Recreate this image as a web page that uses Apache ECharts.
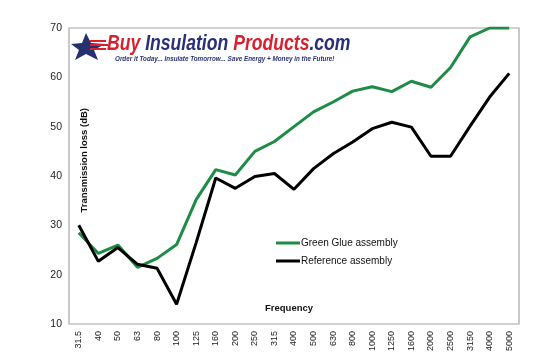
<!DOCTYPE html>
<html>
<head>
<meta charset="utf-8">
<script src="https://cdn.jsdelivr.net/npm/echarts@6/dist/echarts.min.js"></script>
<style>html,body{margin:0;padding:0;background:#fff}#c{width:541px;height:363px}</style>
</head>
<body>
<div id="c"></div>
<script>
const categories = ['31.5','40','50','63','80','100','125','160','200','250','315','400','500','630','800','1000','1250','1600','2000','2500','3150','4000','5000'];
const greenGlue = [28.5,24.3,26,21.5,23.3,26.1,35.2,41.3,40.2,45,47,50,53,55,57.2,58.1,57.1,59.2,58,62,68.2,70,70];
const reference = [30,22.7,25.5,22.1,21.3,14,26.5,39.6,37.5,39.9,40.5,37.3,41.5,44.5,46.9,49.6,50.9,49.9,44,44,50.1,56,60.8];
const seriesNames = ['Green Glue assembly','Reference assembly'];
const yTicks = {min:10,max:70,interval:10};

const chart = echarts.init(document.getElementById('c'));
chart.setOption({
  animation:false,
  backgroundColor:'#fff',
  grid:{left:69,right:22,top:28,bottom:39,show:true,borderColor:'#a6a6a6',borderWidth:1.2},
  xAxis:{type:'category',data:categories,boundaryGap:true,
    axisLine:{show:false},axisTick:{show:false},
    axisLabel:{rotate:90,fontSize:9,color:'#222',fontFamily:'Liberation Sans, Arial',margin:7,interval:0}},
  yAxis:{type:'value',min:yTicks.min,max:yTicks.max,interval:yTicks.interval,
    axisLine:{show:false},axisTick:{show:false},splitLine:{show:false},
    axisLabel:{fontSize:10.5,color:'#222',fontFamily:'Liberation Sans, Arial',margin:7}},
  legend:{orient:'vertical',left:271,top:233,itemGap:8,itemWidth:24,itemHeight:3,icon:'rect',
    textStyle:{fontSize:10,color:'#111',fontFamily:'Liberation Sans, Arial',padding:[0,0,0,-4]},
    data:seriesNames},
  series:[
    {name:seriesNames[0],type:'line',data:greenGlue,symbol:'none',lineStyle:{color:'#1d8c45',width:3},itemStyle:{color:'#1d8c45'}},
    {name:seriesNames[1],type:'line',data:reference,symbol:'none',lineStyle:{color:'#000',width:3},itemStyle:{color:'#000'}}
  ],
  graphic:[
    {type:'text',left:79,top:108,rotation:Math.PI/2,style:{text:'Transmission loss (dB)',font:'bold 9.5px Liberation Sans, Arial',fill:'#111'}},
    {type:'text',left:265,top:303,style:{text:'Frequency',font:'bold 9.5px Liberation Sans, Arial',fill:'#111'}},
    {type:'polygon',shape:{points:[[86,33],[91,43],[105,44],[94,50],[98,60],[86,54],[75,60],[79,50],[71,44],[82,43]]},style:{fill:'#27306e'}},
    {type:'rect',shape:{x:90,y:40,width:16,height:2},style:{fill:'#d62030'}},
    {type:'rect',shape:{x:90,y:44,width:18,height:2},style:{fill:'#d62030'}},
    {type:'rect',shape:{x:90,y:48,width:16,height:2},style:{fill:'#d62030'}},
    {type:'text',x:107,y:33,scaleX:0.8,style:{
      rich:{r:{font:'italic bold 22px Liberation Sans, Arial',fill:'#d8202e',textShadowColor:'#9a9a9a',textShadowOffsetX:1.5,textShadowOffsetY:1.5},
            b:{font:'italic bold 22px Liberation Sans, Arial',fill:'#2a2f7a',textShadowColor:'#9a9a9a',textShadowOffsetX:1.5,textShadowOffsetY:1.5}},
      text:'{r|Buy }{b|Insulation }{r|Products}{b|.com}'}},
    {type:'text',x:115,y:56,scaleX:0.9,style:{text:'Order it Today... Insulate Tomorrow... Save Energy + Money in the Future!',font:'italic bold 7px Liberation Sans, Arial',fill:'#2a2f7a'}}
  ]
});
</script>
</body>
</html>
